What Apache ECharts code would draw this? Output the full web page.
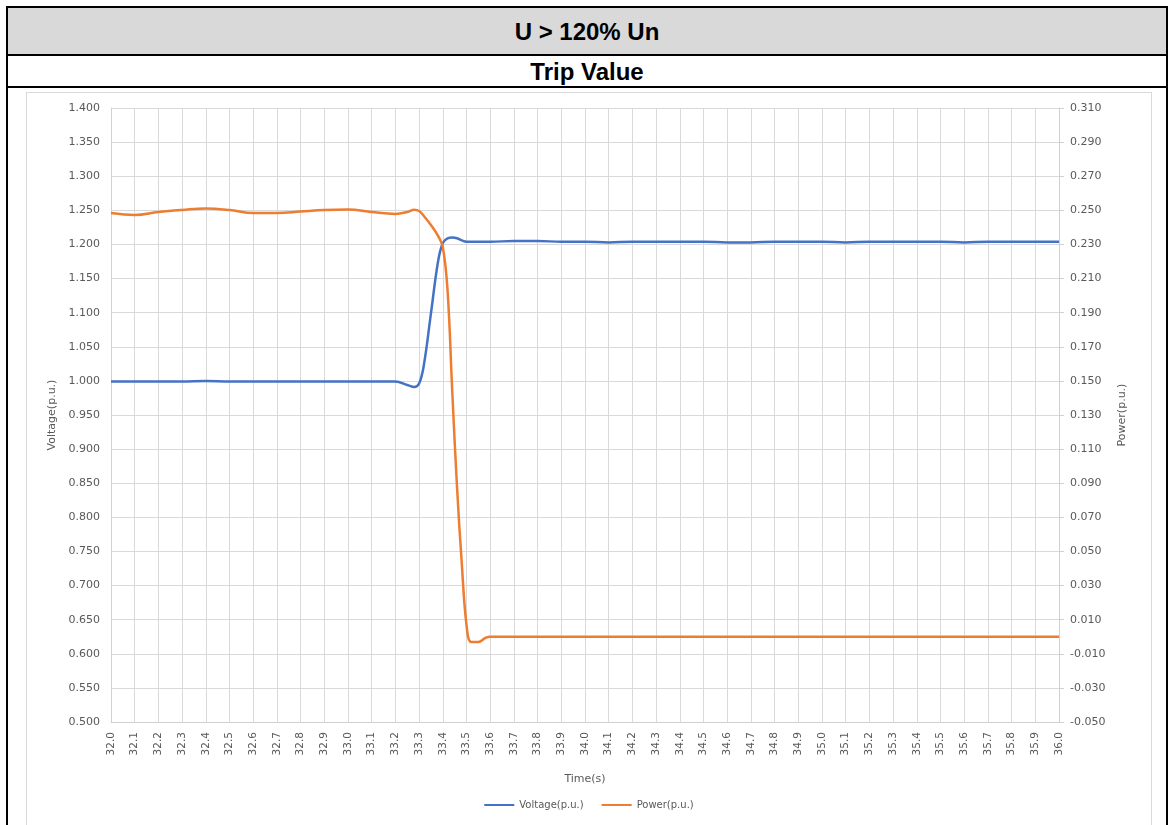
<!DOCTYPE html>
<html>
<head>
<meta charset="utf-8">
<script src="https://cdn.jsdelivr.net/npm/echarts@6/dist/echarts.min.js"></script>
<style>
    html, body {
        margin: 0;
        padding: 0;
        width: 1175px;
        height: 825px;
        overflow: hidden;
        background: #fff;
    }
    .sheet {
        position: absolute;
        left: 6px;
        top: 6px;
        width: 1158px;
        height: 840px;
        border: 2px solid #000;
        border-bottom: none;
        font-family: "Liberation Sans", Arial, sans-serif;
        font-weight: bold;
        font-size: 24px;
        text-align: center;
    }
    .head {
        height: 46px;
        line-height: 47px;
        background: #d9d9d9;
        border-bottom: 2px solid #000;
    }
    .sub {
        height: 30px;
        line-height: 31px;
        border-bottom: 2px solid #000;
    }
    #chart {
        position: absolute;
        left: 26px;
        top: 92px;
        width: 1124px;
        height: 740px;
        border: 1px solid #d9d9d9;
        border-bottom: none;
    }
</style>
</head>
<body>
<div class="sheet">
    <div class="head">U &gt; 120% Un</div>
    <div class="sub">Trip Value</div>
</div>
<div id="chart"></div>

<script>
// time axis (s)
const times = [
    32.0, 32.1, 32.2, 32.3, 32.4, 32.5, 32.6, 32.7, 32.8, 32.9, 33.0, 33.1, 33.2,
    33.25, 33.28, 33.30, 33.32, 33.35, 33.38, 33.40, 33.42, 33.44, 33.46, 33.48, 33.50, 33.52, 33.55, 33.58, 33.60,
    33.7, 33.8, 33.9, 34.0, 34.1, 34.2, 34.3, 34.4, 34.5, 34.6, 34.7, 34.8,
    34.9, 35.0, 35.1, 35.2, 35.3, 35.4, 35.5, 35.6, 35.7, 35.8, 35.9, 36.0
]

// Voltage(p.u.) - left axis
const voltage = [
    0.999, 0.999, 0.999, 0.999, 1.000, 0.999, 0.999, 0.999, 0.999, 0.999, 0.999, 0.999, 0.999,
    0.994, 0.991, 0.996, 1.023, 1.099, 1.175, 1.202, 1.209, 1.210, 1.209, 1.206, 1.204, 1.204, 1.204, 1.204, 1.204,
    1.205, 1.205, 1.204, 1.204, 1.203, 1.204, 1.204, 1.204, 1.204, 1.203, 1.203, 1.204,
    1.204, 1.204, 1.203, 1.204, 1.204, 1.204, 1.204, 1.203, 1.204, 1.204, 1.204, 1.204
]

// Power(p.u.) - right axis
const power = [
    0.2484, 0.2473, 0.2490, 0.2502, 0.2511, 0.2502, 0.2484, 0.2484, 0.2493, 0.2502, 0.2505, 0.2490, 0.2479,
    0.2490, 0.2504, 0.2496, 0.2467, 0.2414, 0.2350, 0.2285, 0.2033, 0.1435, 0.0878, 0.0432, 0.0069, -0.0031, -0.0031, -0.0007, 0.0000,
    0.0000, 0.0000, 0.0000, 0.0000, 0.0000, 0.0000, 0.0000, 0.0000, 0.0000, 0.0000, 0.0000, 0.0000,
    0.0000, 0.0000, 0.0000, 0.0000, 0.0000, 0.0000, 0.0000, 0.0000, 0.0000, 0.0000, 0.0000, 0.0000
]

const seriesNames = ['Voltage(p.u.)', 'Power(p.u.)']

const labelFont = {
    color: '#595959',
    fontSize: 11,
    fontFamily: 'DejaVu Sans'
}

const chart = echarts.init(document.getElementById('chart'))

const option = {
    animation: false,
    grid: {
        left: 84,
        top: 15,
        width: 948,
        height: 614
    },
    legend: {
        top: 702,
        left: 'center',
        icon: 'rect',
        itemWidth: 30,
        itemHeight: 2,
        itemGap: 18,
        textStyle: { ...labelFont, fontSize: 10 },
        data: seriesNames
    },
    xAxis: {
        type: 'value',
        min: 32,
        max: 36,
        interval: 0.1,
        name: 'Time(s)',
        nameLocation: 'middle',
        nameGap: 52,
        nameTextStyle: { ...labelFont },
        axisLine: { onZero: false, lineStyle: { color: '#d0d0d0' } },
        axisTick: { show: false },
        axisLabel: {
            ...labelFont,
            fontSize: 10.5,
            rotate: 90,
            margin: 10,
            formatter: (v) => v.toFixed(1)
        },
        splitLine: { lineStyle: { color: '#d9d9d9' } }
    },
    yAxis: [
        {
            type: 'value',
            min: 0.5,
            max: 1.4,
            interval: 0.05,
            name: 'Voltage(p.u.)',
            nameLocation: 'middle',
            nameRotate: 90,
            nameGap: 50,
            nameTextStyle: { ...labelFont },
            axisLine: { show: true, lineStyle: { color: '#d0d0d0' } },
            axisTick: { show: false },
            axisLabel: {
                ...labelFont,
                margin: 11,
                formatter: (v) => v.toFixed(3)
            },
            splitLine: { lineStyle: { color: '#d9d9d9' } }
        },
        {
            type: 'value',
            position: 'right',
            min: -0.05,
            max: 0.31,
            interval: 0.02,
            name: 'Power(p.u.)',
            nameLocation: 'middle',
            nameRotate: 90,
            nameGap: 58,
            nameTextStyle: { ...labelFont },
            axisLine: { show: true, lineStyle: { color: '#d0d0d0' } },
            axisTick: { show: true, inside: false, length: 5, lineStyle: { color: '#d0d0d0' } },
            axisLabel: {
                ...labelFont,
                margin: 11,
                formatter: (v) => v.toFixed(3)
            },
            splitLine: { show: false }
        }
    ],
    series: [
        {
            name: seriesNames[0],
            type: 'line',
            yAxisIndex: 0,
            data: times.map((t, i) => [t, voltage[i]]),
            showSymbol: false,
            symbol: 'none',
            smooth: 0.4,
            lineStyle: { width: 2.5, color: '#4472c4' },
            itemStyle: { color: '#4472c4' }
        },
        {
            name: seriesNames[1],
            type: 'line',
            yAxisIndex: 1,
            data: times.map((t, i) => [t, power[i]]),
            showSymbol: false,
            symbol: 'none',
            smooth: 0.4,
            lineStyle: { width: 2.5, color: '#ed7d31' },
            itemStyle: { color: '#ed7d31' }
        }
    ]
}

chart.setOption(option)
</script>
</body>
</html>
